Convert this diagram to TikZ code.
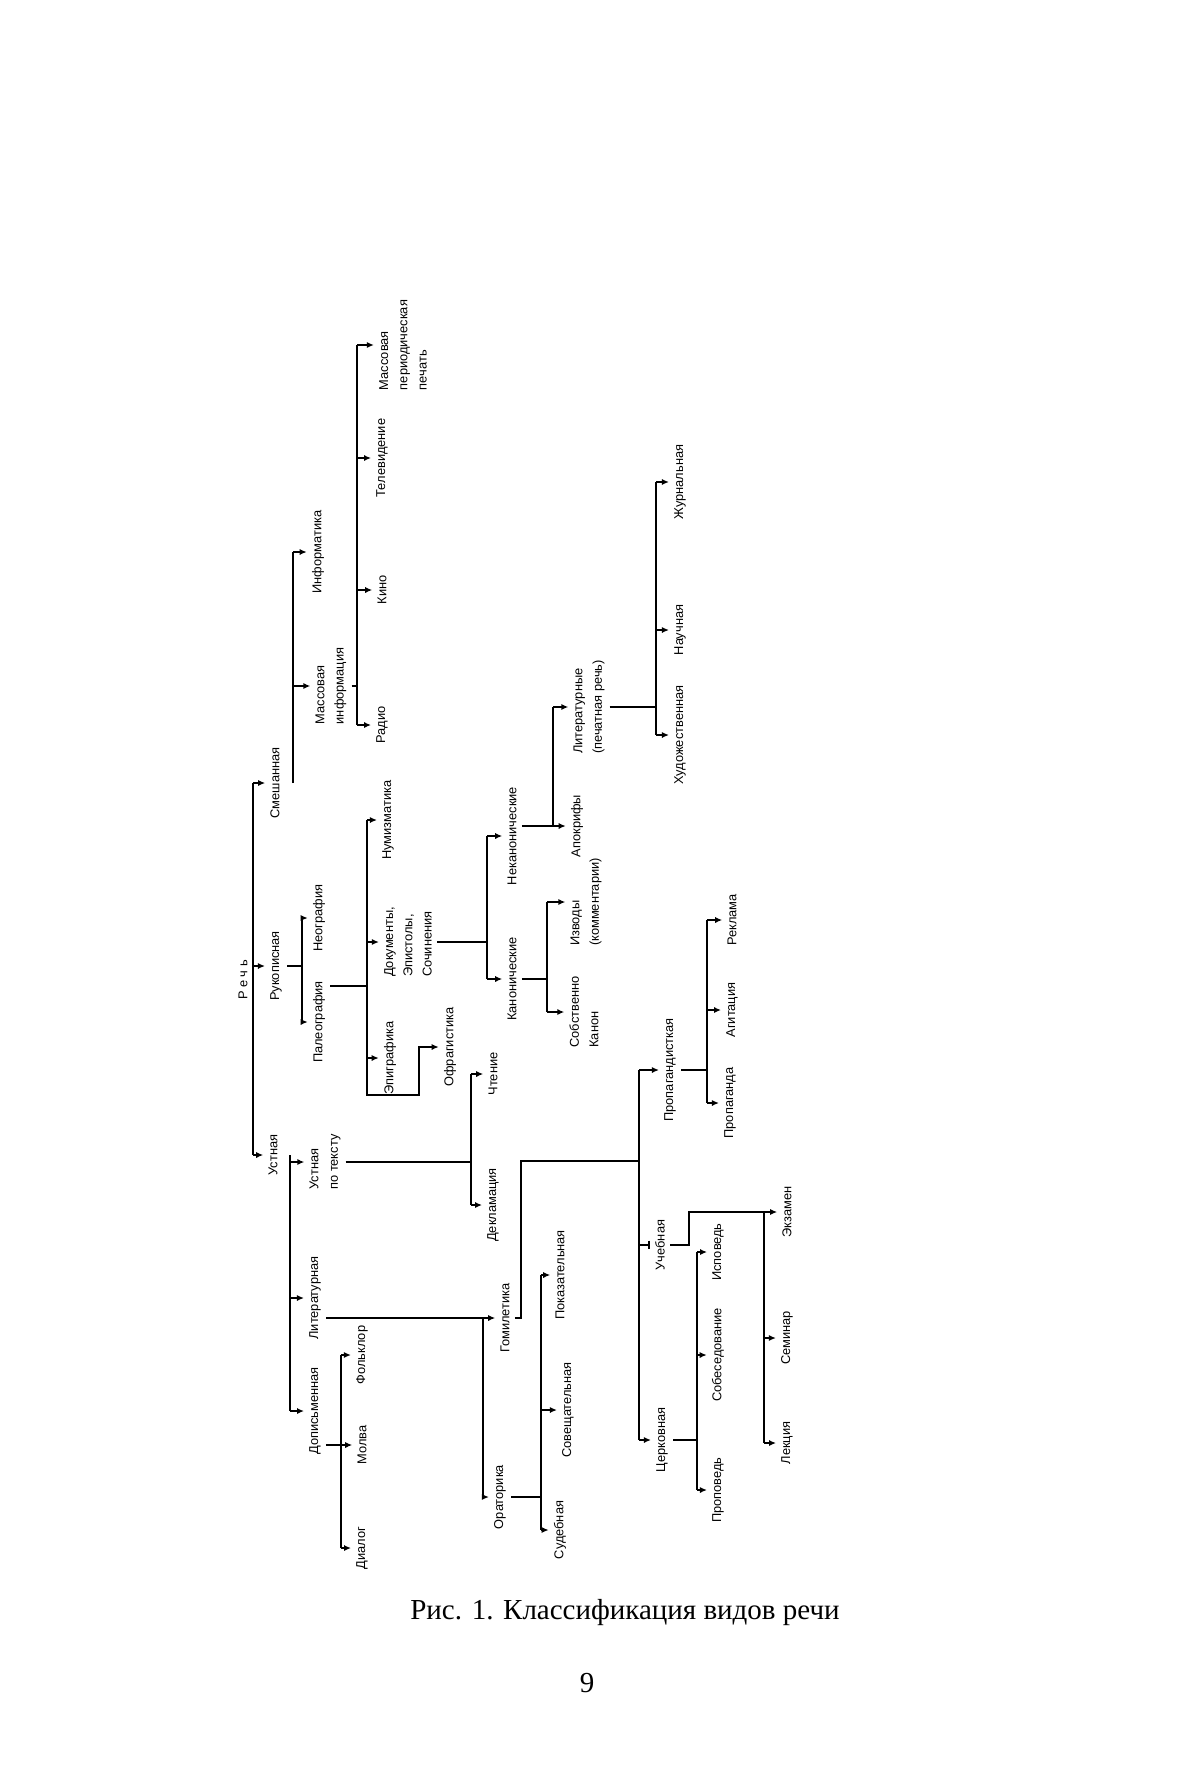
\documentclass[tikz,border=0pt]{standalone}
\usepackage{fontspec}
\setmainfont{Liberation Serif}
\newfontfamily\diagfont{Liberation Sans}
\usetikzlibrary{arrows.meta}

\begin{document}
\begin{tikzpicture}[x=0.02cm,y=-0.02cm,line width=1pt,
    arr/.style={-{Latex[length=4pt,width=3.5pt]}},
    bar/.style={-{Bar[width=5pt]}}]

      \useasboundingbox[fill=white] (0,0) rectangle (1176,1767);

      \coordinate (bR)  at (253,0);
      \coordinate (bS)  at (293,0);
      \coordinate (bM)  at (357,0);
      \coordinate (bRk) at (302,0);
      \coordinate (bP)  at (367,0);
      \coordinate (cP)  at (367,1095);
      \coordinate (cO)  at (419,0);
      \coordinate (bD)  at (487,0);
      \coordinate (bK)  at (547,0);
      \coordinate (bN)  at (553,0);
      \coordinate (bL)  at (656,0);
      \coordinate (bU)  at (290,0);
      \coordinate (bT)  at (471,0);
      \coordinate (bG)  at (483,0);
      \coordinate (cG)  at (521,1161);
      \coordinate (bC)  at (639,0);
      \coordinate (bO)  at (541,0);
      \coordinate (bDp) at (341,0);
      \coordinate (bPr) at (707,0);
      \coordinate (cU)  at (689,0);
      \coordinate (bE)  at (764,0);
      \coordinate (bCk) at (697,0);

      \begin{scope}[every node/.style={rotate=90,align=left,inner sep=2.5pt,
          font=\diagfont\fontsize{7.3}{11}\selectfont}]
        \node (rech)      at (243,980)  {Р е ч ь};
        \node (smesh)     at (275,783)  {Смешанная};
        \node (rukop)     at (276,966)  {Рукописная};
        \node (ustn)      at (273,1155) {Устная};
        \node (massinf)   at (331,686)  {Массовая\\информация};
        \node (inform)    at (318,552)  {Информатика};
        \node (radio)     at (382,725)  {Радио};
        \node (kino)      at (382,590)  {Кино};
        \node (tv)        at (382,458)  {Телевидение};
        \node (pechat)    at (403,345)  {Массовая\\периодическая\\печать};
        \node (neogr)     at (319,918)  {Неография};
        \node (paleo)     at (319,1022) {Палеография};
        \node (numizm)    at (388,820)  {Нумизматика};
        \node (dokum)     at (408,942)  {Документы,\\Эпистолы,\\Сочинения};
        \node (epigr)     at (390,1058) {Эпиграфика};
        \node (ofr)       at (450,1047) {Офрагистика};
        \node (nekanon)   at (512,836)  {Неканонические};
        \node (kanon)     at (512,979)  {Канонические};
        \node (izvody)    at (586,902)  {Изводы\\(комментарии)};
        \node (sobkanon)  at (584,1012) {Собственно\\Канон};
        \node (apokr)     at (577,826)  {Апокрифы};
        \node (litpech)   at (589,707)  {Литературные\\(печатная речь)};
        \node (hud)       at (680,735)  {Художественная};
        \node (nauch)     at (680,630)  {Научная};
        \node (zhurn)     at (680,482)  {Журнальная};
        \node (ustpotext) at (325,1162) {Устная\\по тексту};
        \node (litur)     at (315,1298) {Литературная};
        \node (dopis)     at (315,1411) {Дописьменная};
        \node (chten)     at (493,1074) {Чтение};
        \node (deklam)    at (493,1205) {Декламация};
        \node (gomil)     at (505,1318) {Гомилетика};
        \node (orat)      at (500,1497) {Ораторика};
        \node (pokaz)     at (560,1275) {Показательная};
        \node (sovesh)    at (568,1410) {Совещательная};
        \node (sudeb)     at (560,1530) {Судебная};
        \node (folk)      at (362,1355) {Фольклор};
        \node (molva)     at (362,1445) {Молва};
        \node (dialog)    at (362,1548) {Диалог};
        \node (propist)   at (670,1070) {Пропагандисткая};
        \node (ucheb)     at (660,1245) {Учебная};
        \node (cerk)      at (662,1440) {Церковная};
        \node (propag)    at (730,1103) {Пропаганда};
        \node (agit)      at (732,1010) {Агитация};
        \node (reklama)   at (732,920)  {Реклама};
        \node (ekzam)     at (787,1212) {Экзамен};
        \node (seminar)   at (787,1338) {Семинар};
        \node (lekc)      at (787,1443) {Лекция};
        \node (ispov)     at (718,1252) {Исповедь};
        \node (sobes)     at (718,1355) {Собеседование};
        \node (propov)    at (718,1490) {Проповедь};
      \end{scope}

      \begin{scope}
        \draw (smesh.north -| bR) -- (ustn.north -| bR);
        \foreach \n in {smesh,rukop,ustn} \draw[arr] (\n.north -| bR) -- (\n.north);

        \draw (smesh.south -| bS) -- (inform.north -| bS);
        \foreach \n in {massinf,inform} \draw[arr] (\n.north -| bS) -- (\n.north);

        \draw (massinf.south) -- (massinf.south -| bM);
        \draw (radio.north -| bM) -- (pechat.north -| bM);
        \foreach \n in {radio,kino,tv,pechat} \draw[arr] (\n.north -| bM) -- (\n.north);

        \draw (rukop.south) -- (rukop.south -| bRk);
        \draw (neogr.north -| bRk) -- (paleo.north -| bRk);
        \foreach \n in {neogr,paleo} \draw[arr] (\n.north -| bRk) -- (\n.north);

        \path (paleo.south east) ++(0,10) coordinate (sP);
        \draw (sP) -- (sP -| bP);
        \draw[arr] (numizm.north -| bP) -- (cP) -| (ofr.north -| cO) -- (ofr.north);
        \foreach \n in {numizm,dokum,epigr} \draw[arr] (\n.north -| bP) -- (\n.north);

        \draw (dokum.south) -- (dokum.south -| bD);
        \draw (nekanon.north -| bD) -- (kanon.north -| bD);
        \foreach \n in {nekanon,kanon} \draw[arr] (\n.north -| bD) -- (\n.north);

        \draw (kanon.south) -- (kanon.south -| bK);
        \draw (izvody.north -| bK) -- (sobkanon.north -| bK);
        \foreach \n in {izvody,sobkanon} \draw[arr] (\n.north -| bK) -- (\n.north);

        \draw[arr] (nekanon.south |- apokr.north) -- (apokr.north);
        \draw (litpech.north -| bN) -- (apokr.north -| bN);
        \draw[arr] (litpech.north -| bN) -- (litpech.north);

        \draw (litpech.south) -- (litpech.south -| bL);
        \draw (zhurn.north -| bL) -- (hud.north -| bL);
        \foreach \n in {hud,nauch,zhurn} \draw[arr] (\n.north -| bL) -- (\n.north);

        \draw (ustn.south -| bU) -- (dopis.north -| bU);
        \foreach \n in {ustpotext,litur,dopis} \draw[arr] (\n.north -| bU) -- (\n.north);

        \draw (ustpotext.south) -- (ustpotext.south -| bT);
        \draw (chten.north -| bT) -- (deklam.north -| bT);
        \foreach \n in {chten,deklam} \draw[arr] (\n.north -| bT) -- (\n.north);

        \draw[arr] (litur.south |- gomil.north) -- (gomil.north);
        \draw (gomil.north -| bG) -- (orat.north -| bG);
        \draw[arr] (orat.north -| bG) -- (orat.north);

        \draw (gomil.south) -- (gomil.south -| cG) -- (cG) -- (cG -| bC);
        \draw (propist.north -| bC) -- (cerk.north -| bC);
        \draw[arr] (propist.north -| bC) -- (propist.north);
        \draw[bar] (ucheb.north -| bC) -- (ucheb.north);
        \draw[arr] (cerk.north -| bC) -- (cerk.north);

        \draw (orat.south) -- (orat.south -| bO);
        \draw (pokaz.north -| bO) -- (sudeb.north -| bO);
        \foreach \n in {pokaz,sovesh,sudeb} \draw[arr] (\n.north -| bO) -- (\n.north);

        \draw[arr] (dopis.south |- molva.north) -- (molva.north);
        \draw (folk.north -| bDp) -- (dialog.north -| bDp);
        \foreach \n in {folk,dialog} \draw[arr] (\n.north -| bDp) -- (\n.north);

        \draw (propist.south) -- (propist.south -| bPr);
        \draw (reklama.north -| bPr) -- (propag.north -| bPr);
        \foreach \n in {propag,agit,reklama} \draw[arr] (\n.north -| bPr) -- (\n.north);

        \draw[arr] (ucheb.south) -- (ucheb.south -| cU) -- (cU |- ekzam.north) -- (ekzam.north);
        \draw (ekzam.north -| bE) -- (lekc.north -| bE);
        \foreach \n in {seminar,lekc} \draw[arr] (\n.north -| bE) -- (\n.north);

        \draw (cerk.south) -- (cerk.south -| bCk);
        \draw (ispov.north -| bCk) -- (propov.north -| bCk);
        \foreach \n in {ispov,sobes,propov} \draw[arr] (\n.north -| bCk) -- (\n.north);
      \end{scope}

      \node[font=\fontsize{16.5}{20}\selectfont] (cap) at (625,1613) {Рис. 1. Классификация видов речи};
      \node[font=\fontsize{16.5}{20}\selectfont] (num) at (587,1683) {9};

    \end{tikzpicture}
\end{document}
